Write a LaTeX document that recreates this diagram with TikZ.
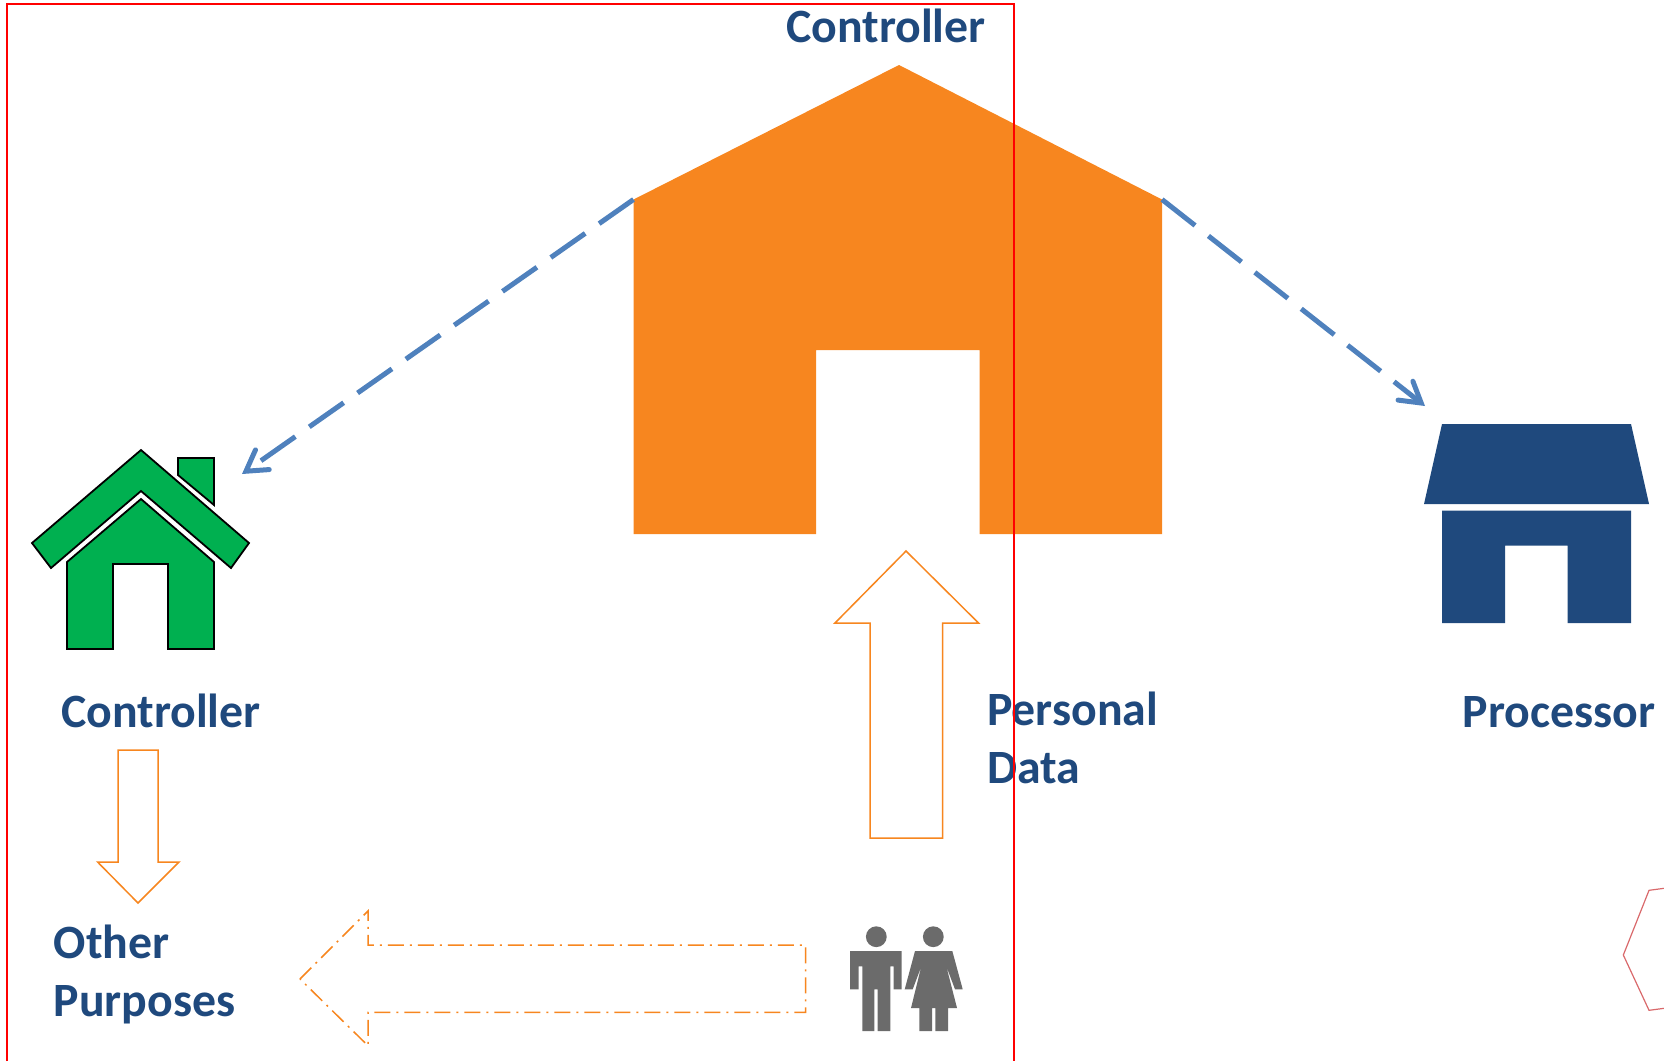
\documentclass[tikz,border=0pt]{standalone}
\usepackage{fontspec}
\setmainfont{Carlito}
\usepackage{xcolor}
\usetikzlibrary{arrows.meta}
\definecolor{housebrown}{HTML}{F7861F}
\definecolor{housegreen}{HTML}{00B050}
\definecolor{labelblue}{HTML}{1F497D}
\definecolor{flowblue}{HTML}{4F81BD}
\definecolor{peoplegrey}{HTML}{6B6B6B}
\definecolor{hexred}{HTML}{D9696B}
\tikzset{
  labeltext/.style={text=labelblue,inner sep=0pt,anchor=base west,align=left,font=\fontsize{13.6}{16.5}\selectfont\bfseries},
  dataarrow/.style={draw=housebrown,line width=0.015cm,fill=white},
  sharearrow/.style={draw=flowblue,line width=0.05cm,dash pattern=on 0.42cm off 0.17cm,-{Straight Barb[length=0.2cm,width=0.24cm,line cap=round]}},
  greenpart/.style={draw=black,line width=0.018cm,fill=housegreen},
}
\begin{document}
\begin{tikzpicture}
\useasboundingbox (0,0) rectangle (16.64,10.61);

\fill[housebrown] (8.99,9.96) -- (11.62,8.615) -- (11.62,5.27) -- (9.795,5.27) -- (9.795,7.11) -- (8.16,7.11) -- (8.16,5.27) -- (6.335,5.27) -- (6.335,8.615) -- cycle;

\draw[greenpart] (1.41,6.11) -- (2.49,5.18) -- (2.31,4.93) -- (1.41,5.70) -- (0.51,4.93) -- (0.32,5.18) -- cycle;
\draw[greenpart] (1.78,6.03) -- (2.14,6.03) -- (2.14,5.56) -- (1.78,5.86) -- cycle;
\draw[greenpart] (1.41,5.62) -- (2.14,4.99) -- (2.14,4.12) -- (1.68,4.12) -- (1.68,4.97) -- (1.13,4.97) -- (1.13,4.12) -- (0.67,4.12) -- (0.67,4.99) -- cycle;

\fill[labelblue] (14.42,6.37) -- (16.31,6.37) -- (16.49,5.57) -- (14.24,5.57) -- cycle;
\fill[labelblue] (14.42,5.505) -- (16.31,5.505) -- (16.31,4.38) -- (15.675,4.38) -- (15.675,5.155) -- (15.05,5.155) -- (15.05,4.38) -- (14.42,4.38) -- cycle;

\coordinate (roofleft) at (6.335,8.615);
\coordinate (roofright) at (11.62,8.615);
\coordinate (greenhouse) at (2.42,5.87);
\coordinate (bluehouse) at (14.25,6.55);
\draw[sharearrow] (roofleft) -- (greenhouse);
\draw[sharearrow] (roofright) -- (bluehouse);

\draw[dataarrow] (9.06,5.10) -- (9.785,4.38) -- (9.425,4.38) -- (9.425,2.23) -- (8.70,2.23) -- (8.70,4.38) -- (8.35,4.38) -- cycle;
\draw[dataarrow] (1.18,3.11) -- (1.58,3.11) -- (1.58,1.99) -- (1.79,1.99) -- (1.38,1.58) -- (0.976,1.99) -- (1.18,1.99) -- cycle;
\draw[dataarrow,dash pattern=on 0.16cm off 0.06cm on 0.02cm off 0.06cm] (3.00,0.82) -- (3.68,1.50) -- (3.68,1.16) -- (8.055,1.16) -- (8.055,0.487) -- (3.68,0.487) -- (3.68,0.153) -- cycle;

\fill[peoplegrey] (8.763,1.243) circle (0.104);
\fill[peoplegrey] (8.50,1.10) -- (9.017,1.10) -- (9.017,0.717) -- (8.937,0.717) -- (8.937,0.947) -- (8.903,0.947) -- (8.903,0.30) -- (8.777,0.30) -- (8.777,0.717) -- (8.743,0.717) -- (8.743,0.30) -- (8.623,0.30) -- (8.623,0.947) -- (8.587,0.947) -- (8.587,0.717) -- (8.50,0.717) -- cycle;
\fill[peoplegrey] (9.333,1.243) circle (0.104);
\fill[peoplegrey] (9.15,1.10) -- (9.523,1.10) -- (9.627,0.717) -- (9.55,0.717) -- (9.463,0.947) -- (9.57,0.53) -- (9.48,0.53) -- (9.48,0.30) -- (9.353,0.30) -- (9.353,0.53) -- (9.32,0.53) -- (9.32,0.30) -- (9.193,0.30) -- (9.193,0.53) -- (9.11,0.53) -- (9.213,0.947) -- (9.127,0.717) -- (9.047,0.717) -- cycle;

\draw[hexred,line width=0.012cm] (16.64,1.727) -- (16.49,1.707) -- (16.233,1.06) -- (16.49,0.507) -- (16.64,0.527);

\node[labeltext] (topcontroller) at (7.855,10.19) {Controller};
\node[labeltext] (greencontroller) at (0.605,3.34) {Controller};
\node[labeltext] (processor) at (14.62,3.34) {Processor};
\node[labeltext] (personaldata) at (9.865,2.78) {Personal\\Data};
\node[labeltext] (otherpurposes) at (0.53,0.445) {Other\\Purposes};

\draw[red,line width=0.018cm] (0.07,0) -- (0.07,10.57) -- (10.14,10.57) -- (10.14,0);
\end{tikzpicture}
\end{document}
